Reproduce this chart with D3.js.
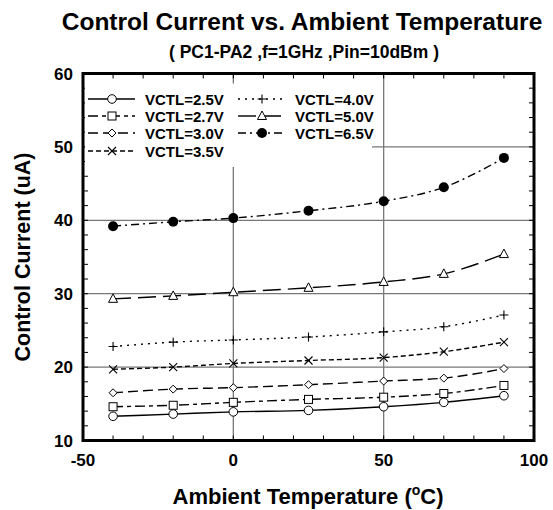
<!DOCTYPE html>
<html><head><meta charset="utf-8">
<script src="https://cdn.jsdelivr.net/npm/d3@7"></script>
<style>
body{margin:0;background:#fff;}
text{font-family:"Liberation Sans",Arial,sans-serif;font-weight:bold;fill:#000;}
</style></head>
<body><svg id="c" width="553" height="510"></svg>
<script>
const temps = [-40, -20, 0, 25, 50, 70, 90];
const v25 = [13.3, 13.6, 13.9, 14.1, 14.6, 15.2, 16.1];
const v27 = [14.6, 14.8, 15.2, 15.6, 15.9, 16.4, 17.5];
const v30 = [16.5, 17.0, 17.2, 17.6, 18.1, 18.5, 19.8];
const v35 = [19.7, 20.0, 20.5, 20.9, 21.3, 22.1, 23.4];
const v40 = [22.8, 23.4, 23.7, 24.1, 24.8, 25.5, 27.1];
const v50 = [29.3, 29.7, 30.2, 30.8, 31.6, 32.7, 35.4];
const v65 = [39.2, 39.8, 40.3, 41.3, 42.6, 44.5, 48.5];
const seriesNames = ["VCTL=2.5V","VCTL=2.7V","VCTL=3.0V","VCTL=3.5V","VCTL=4.0V","VCTL=5.0V","VCTL=6.5V"];
const xTicks = [-50, 0, 50, 100];
const yTicks = [10, 20, 30, 40, 50, 60];

const series = [
  {name:seriesNames[0], vals:v25, dash:null, marker:"circle"},
  {name:seriesNames[1], vals:v27, dash:"10,4,4,4", marker:"square"},
  {name:seriesNames[2], vals:v30, dash:"10,5", marker:"diamond"},
  {name:seriesNames[3], vals:v35, dash:"5,3", marker:"x"},
  {name:seriesNames[4], vals:v40, dash:"2,5", marker:"plus"},
  {name:seriesNames[5], vals:v50, dash:"18,7", marker:"triangle"},
  {name:seriesNames[6], vals:v65, dash:"8,4,2,4", marker:"dot"}
];

const svg = d3.select("#c");
const L=83, R=534, T=73.5, B=440.5;
const x = d3.scaleLinear().domain([-50,100]).range([L,R]);
const y = d3.scaleLinear().domain([10,60]).range([B,T]);

// grid
const grid = svg.append("g").attr("stroke","#777").attr("stroke-width",1.3);
[20,30,40,50].forEach(v=>grid.append("line").attr("x1",L).attr("x2",R).attr("y1",y(v)).attr("y2",y(v)));
[0,50].forEach(v=>grid.append("line").attr("x1",x(v)).attr("x2",x(v)).attr("y1",T).attr("y2",B));

// minor ticks
const tk = svg.append("g").attr("stroke","#000").attr("stroke-width",1);
d3.range(-40,100,10).forEach(v=>{
  tk.append("line").attr("x1",x(v)).attr("x2",x(v)).attr("y1",B).attr("y2",B-5);
  tk.append("line").attr("x1",x(v)).attr("x2",x(v)).attr("y1",T).attr("y2",T+5);
});
d3.range(12,60,2).forEach(v=>{
  tk.append("line").attr("x1",L).attr("x2",L+5).attr("y1",y(v)).attr("y2",y(v));
  tk.append("line").attr("x1",R).attr("x2",R-5).attr("y1",y(v)).attr("y2",y(v));
});

// legend background (hides grid)
svg.append("rect").attr("x",L+2).attr("y",T+10).attr("width",372-L-2).attr("height",167-T-10).attr("fill","#fff");

function drawMarker(g, type, cx, cy){
  const s="#000";
  if(type==="circle") g.append("circle").attr("cx",cx).attr("cy",cy).attr("r",4.3).attr("fill","#fff").attr("stroke",s).attr("stroke-width",1);
  else if(type==="square") g.append("rect").attr("x",cx-4).attr("y",cy-4).attr("width",8).attr("height",8).attr("fill","#fff").attr("stroke",s).attr("stroke-width",1);
  else if(type==="diamond") g.append("path").attr("d",`M${cx},${cy-4}L${cx+4},${cy}L${cx},${cy+4}L${cx-4},${cy}Z`).attr("fill","#fff").attr("stroke",s).attr("stroke-width",1);
  else if(type==="x") g.append("path").attr("d",`M${cx-4},${cy-4}L${cx+4},${cy+4}M${cx-4},${cy+4}L${cx+4},${cy-4}`).attr("stroke",s).attr("stroke-width",1.1);
  else if(type==="plus") g.append("path").attr("d",`M${cx-4.5},${cy}L${cx+4.5},${cy}M${cx},${cy-4.5}L${cx},${cy+4.5}`).attr("stroke",s).attr("stroke-width",1.1);
  else if(type==="triangle") g.append("path").attr("d",`M${cx},${cy-5}L${cx+4.5},${cy+3.5}L${cx-4.5},${cy+3.5}Z`).attr("fill","#fff").attr("stroke",s).attr("stroke-width",1);
  else if(type==="dot") g.append("circle").attr("cx",cx).attr("cy",cy).attr("r",5).attr("fill","#000");
}

const line = d3.line().x(d=>x(d[0])).y(d=>y(d[1])).curve(d3.curveMonotoneX);
series.forEach(s=>{
  const pts = temps.map((t,i)=>[t,s.vals[i]]);
  const g = svg.append("g");
  g.append("path").attr("d",line(pts)).attr("fill","none").attr("stroke","#000").attr("stroke-width",1.4)
    .attr("stroke-dasharray",s.dash);
  pts.forEach(p=>drawMarker(g,s.marker,x(p[0]),y(p[1])));
});

// legend entries
const legPos = [[88,99],[88,116],[88,133],[88,151],[238,99],[238,116],[238,133]];
series.forEach((s,i)=>{
  const [lx,ly]=legPos[i];
  const g=svg.append("g");
  g.append("line").attr("x1",lx).attr("x2",lx+47).attr("y1",ly).attr("y2",ly).attr("stroke","#000").attr("stroke-width",1.4).attr("stroke-dasharray",s.dash);
  drawMarker(g,s.marker,lx+24,ly);
  g.append("text").attr("x",lx+57).attr("y",ly+5.5).attr("font-size",15).text(s.name);
});

// frame
svg.append("rect").attr("x",L).attr("y",T).attr("width",R-L).attr("height",B-T).attr("fill","none").attr("stroke","#000").attr("stroke-width",3);

// tick labels
yTicks.forEach(v=>svg.append("text").attr("x",L-10).attr("y",y(v)+6).attr("text-anchor","end").attr("font-size",17).text(v));
xTicks.forEach(v=>svg.append("text").attr("x",x(v)).attr("y",466).attr("text-anchor","middle").attr("font-size",17).text(v));

// titles
svg.append("text").attr("x",302).attr("y",30).attr("text-anchor","middle").attr("font-size",24.5).text("Control Current vs. Ambient Temperature");
svg.append("text").attr("x",304).attr("y",57.5).attr("text-anchor","middle").attr("font-size",17.5).text("( PC1-PA2 ,f=1GHz ,Pin=10dBm )");
const xt = svg.append("text").attr("x",308).attr("y",504).attr("text-anchor","middle").attr("font-size",22);
xt.append("tspan").text("Ambient Temperature (");
xt.append("tspan").attr("font-size",14).attr("dy",-9).text("o");
xt.append("tspan").attr("dy",9).text("C)");
svg.append("text").attr("transform","translate(30,257) rotate(-90)").attr("text-anchor","middle").attr("font-size",21.5).text("Control Current (uA)");
</script></body></html>
